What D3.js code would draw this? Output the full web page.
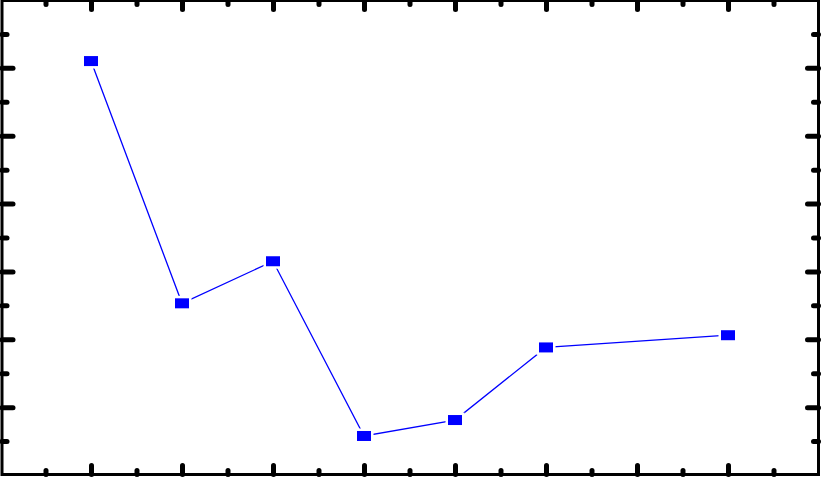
<!DOCTYPE html>
<html>
<head>
<meta charset="utf-8">
<script src="https://cdn.jsdelivr.net/npm/d3@7/dist/d3.min.js"></script>
<style>
html,body{margin:0;padding:0;background:#fff;}
svg{display:block;}
</style>
</head>
<body>
<svg id="chart" width="821" height="477"></svg>
<script>
const xValues = [1, 2, 3, 4, 5, 6, 8];
const yValues = [6.10, 2.53, 3.15, 0.575, 0.81, 1.88, 2.06];
const xMajorTicks = [1, 2, 3, 4, 5, 6, 7, 8];
const xMinorTicks = [0.5, 1.5, 2.5, 3.5, 4.5, 5.5, 6.5, 7.5, 8.5];
const yMajorTicks = [1, 2, 3, 4, 5, 6];
const yMinorTicks = [0.5, 1.5, 2.5, 3.5, 4.5, 5.5, 6.5];

(function(){
const svg = d3.select("#chart");
const fLeft = 2, fRight = 818.5, fTop = 0.5, fBottom = 474.5;

const x = d3.scaleLinear().domain([0, 9]).range([0, 819]);
const y = d3.scaleLinear().domain([0, 7]).range([475, 0]);

function styleAxis(g){
  g.select(".domain").remove();
  g.selectAll("text").remove();
  g.selectAll(".tick line").attr("stroke", "#000").attr("stroke-width", 5).attr("stroke-linecap", "round");
}

// frame
svg.append("rect").attr("x", fLeft).attr("y", fTop).attr("width", fRight - fLeft).attr("height", fBottom - fTop)
  .attr("fill", "none").attr("stroke", "#000").attr("stroke-width", 3);

// x axes
svg.append("g").attr("transform", `translate(0,${fBottom})`)
  .call(d3.axisBottom(x).tickValues(xMajorTicks).tickSizeInner(-9).tickSizeOuter(0).tickFormat("")).call(styleAxis);
svg.append("g").attr("transform", `translate(0,${fBottom})`)
  .call(d3.axisBottom(x).tickValues(xMinorTicks).tickSizeInner(-4).tickSizeOuter(0).tickFormat("")).call(styleAxis);
svg.append("g").attr("transform", `translate(0,${fTop})`)
  .call(d3.axisTop(x).tickValues(xMajorTicks).tickSizeInner(-9).tickSizeOuter(0).tickFormat("")).call(styleAxis);
svg.append("g").attr("transform", `translate(0,${fTop})`)
  .call(d3.axisTop(x).tickValues(xMinorTicks).tickSizeInner(-4).tickSizeOuter(0).tickFormat("")).call(styleAxis);

// y axes
svg.append("g").attr("transform", `translate(${fLeft},0)`)
  .call(d3.axisLeft(y).tickValues(yMajorTicks).tickSizeInner(-11).tickSizeOuter(0).tickFormat("")).call(styleAxis);
svg.append("g").attr("transform", `translate(${fLeft},0)`)
  .call(d3.axisLeft(y).tickValues(yMinorTicks).tickSizeInner(-5).tickSizeOuter(0).tickFormat("")).call(styleAxis);
svg.append("g").attr("transform", `translate(${fRight},0)`)
  .call(d3.axisRight(y).tickValues(yMajorTicks).tickSizeInner(-11).tickSizeOuter(0).tickFormat("")).call(styleAxis);
svg.append("g").attr("transform", `translate(${fRight},0)`)
  .call(d3.axisRight(y).tickValues(yMinorTicks).tickSizeInner(-5).tickSizeOuter(0).tickFormat("")).call(styleAxis);

// line
const pts = xValues.map((v, i) => [v, yValues[i]]);
svg.append("path").datum(pts)
  .attr("fill", "none").attr("stroke", "#0000ff").attr("stroke-width", 1.3)
  .attr("d", d3.line().x(d => x(d[0])).y(d => y(d[1])));

// markers
const mw = 14, mh = 10;
svg.append("g").selectAll("rect").data(pts).join("rect")
  .attr("x", d => x(d[0]) - mw / 2).attr("y", d => y(d[1]) - mh / 2)
  .attr("width", mw).attr("height", mh)
  .attr("fill", "#0000ff").attr("stroke", "#fff").attr("stroke-width", 5).attr("paint-order", "stroke");
})();
</script>
</body>
</html>
